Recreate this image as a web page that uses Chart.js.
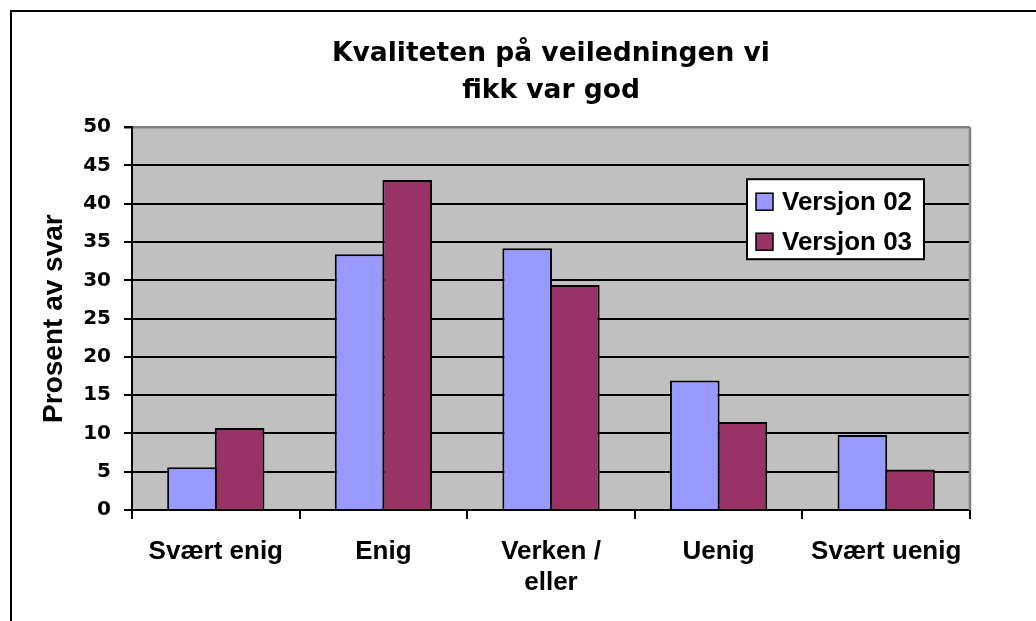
<!DOCTYPE html>
<html>
<head>
<meta charset="utf-8">
<script src="https://cdn.jsdelivr.net/npm/chart.js@4"></script>
<style>
  body { margin: 0; background: #fff; }
</style>
</head>
<body>
<canvas id="myChart" width="1036" height="621"></canvas>
<script>
// data
const categories = ['Svært enig', 'Enig', ['Verken /', 'eller'], 'Uenig', 'Svært uenig'];
const versjon02 = [5.6, 33.4, 34.2, 16.9, 9.8];
const versjon03 = [10.7, 43.1, 29.4, 11.5, 5.3];
const seriesNames = ['Versjon 02', 'Versjon 03'];
const titleLines = ['Kvaliteten på veiledningen vi', 'fikk var god'];
const yTitle = 'Prosent av svar';

// frame, plot background, right border
const backdrop = {
    id: 'backdrop',
    beforeDraw(chart) {
        const ctx = chart.ctx;
        const a = chart.chartArea;
        ctx.save();
        ctx.fillStyle = '#fff';
        ctx.fillRect(0, 0, chart.width, chart.height);
        ctx.strokeStyle = '#000';
        ctx.lineWidth = 2;
        ctx.beginPath();
        ctx.moveTo(11, chart.height);
        ctx.lineTo(11, 11);
        ctx.lineTo(chart.width, 11);
        ctx.stroke();
        ctx.fillStyle = '#c0c0c0';
        ctx.fillRect(a.left, a.top, a.right - a.left, a.bottom - a.top);
        ctx.restore();
    },
    afterDraw(chart) {
        const ctx = chart.ctx;
        const a = chart.chartArea;
        ctx.save();
        ctx.strokeStyle = '#808080';
        ctx.lineWidth = 2.5;
        ctx.beginPath();
        ctx.moveTo(a.right, a.top);
        ctx.lineTo(a.right, a.bottom);
        ctx.stroke();
        ctx.restore();
    }
};

// legend box sitting inside the plot, like the original
const boxLegend = {
    id: 'boxLegend',
    afterDraw(chart) {
        const ctx = chart.ctx;
        const a = chart.chartArea;
        const x = a.right - 223, y = a.top + 52;
        const w = 177, h = 80;
        ctx.save();
        ctx.fillStyle = '#fff';
        ctx.fillRect(x, y, w, h);
        ctx.strokeStyle = '#000';
        ctx.lineWidth = 2;
        ctx.strokeRect(x, y, w, h);
        ctx.font = 'bold 26px "Liberation Sans", Arial, sans-serif';
        ctx.textBaseline = 'middle';
        ctx.textAlign = 'left';
        chart.data.datasets.forEach((ds, i) => {
            const cy = y + 22.5 + i * 40;
            ctx.fillStyle = ds.backgroundColor;
            ctx.fillRect(x + 9, cy - 8.5, 17, 17);
            ctx.lineWidth = 1.5;
            ctx.strokeRect(x + 9, cy - 8.5, 17, 17);
            ctx.fillStyle = '#000';
            ctx.fillText(ds.label, x + 35, cy + 1);
        });
        ctx.restore();
    }
};

const ctx = document.getElementById('myChart').getContext('2d');
const myChart = new Chart(ctx, {
    type: 'bar',
    data: {
        labels: categories,
        datasets: [{
            label: seriesNames[0],
            data: versjon02,
            backgroundColor: '#9999ff',
            borderColor: '#000',
            borderWidth: 2,
            borderSkipped: 'start'
        }, {
            label: seriesNames[1],
            data: versjon03,
            backgroundColor: '#993366',
            borderColor: '#000',
            borderWidth: 2,
            borderSkipped: 'start'
        }]
    },
    options: {
        responsive: false,
        animation: false,
        categoryPercentage: 0.5685,
        barPercentage: 1.042,
        layout: { padding: { left: 32, right: 66, top: 0, bottom: 0 } },
        plugins: {
            legend: { display: false },
            tooltip: { enabled: false },
            title: {
                display: true,
                fullSize: false,
                text: titleLines,
                color: '#000',
                font: { family: '"DejaVu Sans", sans-serif', size: 26.5, weight: 'bold', lineHeight: 1.4 },
                padding: { top: 35.5, bottom: 17.5 }
            }
        },
        scales: {
            x: {
                afterFit: (scale) => { scale.height = 111; },
                grid: {
                    offset: true,
                    drawOnChartArea: false,
                    drawTicks: true,
                    tickLength: 9,
                    color: '#000',
                    lineWidth: 2
                },
                border: { color: '#000', width: 2 },
                ticks: {
                    color: '#000',
                    padding: 17,
                    maxRotation: 0,
                    autoSkip: false,
                    font: { family: '"Liberation Sans", Arial, sans-serif', size: 26, weight: 'bold', lineHeight: 1.2 }
                }
            },
            y: {
                min: 0,
                max: 50,
                afterFit: (scale) => { scale.width = 100; },
                grid: {
                    color: (c) => c.tick && c.tick.value === 50 ? '#808080' : '#000',
                    lineWidth: (c) => c.tick && c.tick.value === 50 ? 2.5 : 2,
                    tickLength: 8,
                    tickColor: '#000'
                },
                border: { color: '#000', width: 2 },
                ticks: {
                    stepSize: 5,
                    color: '#000',
                    padding: 13,
                    font: { family: '"DejaVu Sans", sans-serif', size: 20, weight: 'bold' }
                },
                title: {
                    display: true,
                    text: yTitle,
                    color: '#000',
                    padding: { top: 5.5, bottom: 0 },
                    font: { family: '"Liberation Sans", Arial, sans-serif', size: 28, weight: 'bold', lineHeight: 1.2 }
                }
            }
        }
    },
    plugins: [backdrop, boxLegend]
});
</script>
</body>
</html>
